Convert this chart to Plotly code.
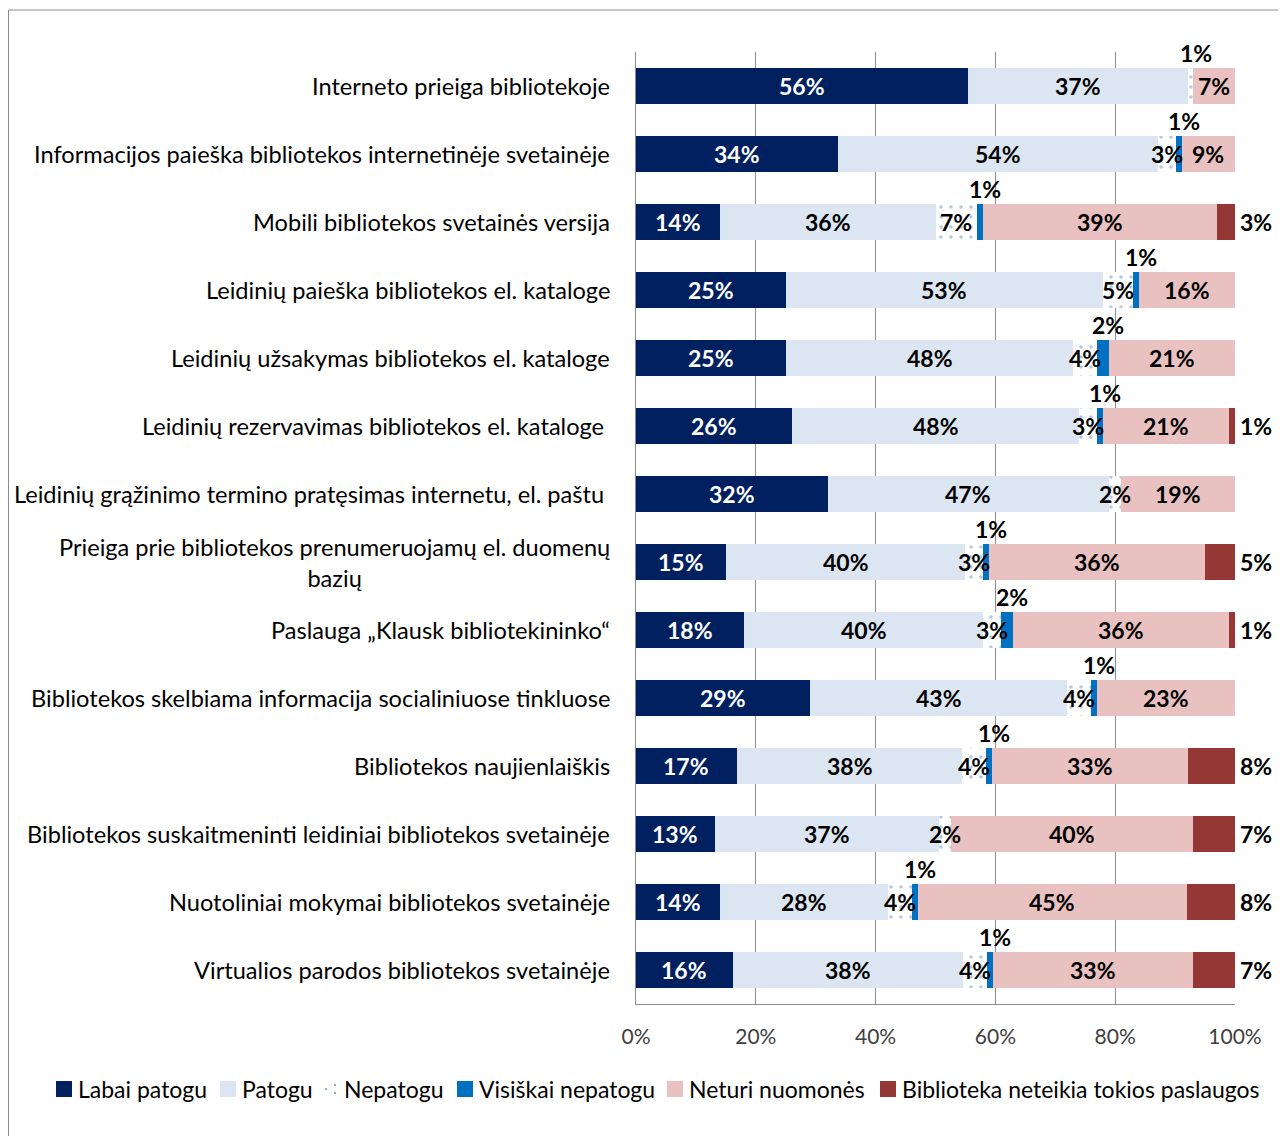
import plotly.graph_objects as go

# categories, top to bottom
kategorijos = [
    "Interneto prieiga bibliotekoje",
    "Informacijos paieška bibliotekos internetinėje svetainėje",
    "Mobili bibliotekos svetainės versija",
    "Leidinių paieška bibliotekos el. kataloge",
    "Leidinių užsakymas bibliotekos el. kataloge",
    "Leidinių rezervavimas bibliotekos el. kataloge ",
    "Leidinių grąžinimo termino pratęsimas internetu, el. paštu ",
    "Prieiga prie bibliotekos prenumeruojamų el. duomenų<br>bazių",
    "Paslauga „Klausk bibliotekininko“",
    "Bibliotekos skelbiama informacija socialiniuose tinkluose",
    "Bibliotekos naujienlaiškis",
    "Bibliotekos suskaitmeninti leidiniai bibliotekos svetainėje",
    "Nuotoliniai mokymai bibliotekos svetainėje",
    "Virtualios parodos bibliotekos svetainėje",
]

# percentages (as shown in the data labels)
labai_patogu = [56, 34, 14, 25, 25, 26, 32, 15, 18, 29, 17, 13, 14, 16]
patogu = [37, 54, 36, 53, 48, 48, 47, 40, 40, 43, 38, 37, 28, 38]
nepatogu = [1, 3, 7, 5, 4, 3, 2, 3, 3, 4, 4, 2, 4, 4]
visiskai_nepatogu = [0, 1, 1, 1, 2, 1, 0, 1, 2, 1, 1, 0, 1, 1]
neturi_nuomones = [7, 9, 39, 16, 21, 21, 19, 36, 36, 23, 33, 40, 45, 33]
neteikia = [0, 0, 3, 0, 0, 1, 0, 5, 1, 0, 8, 7, 8, 7]

x_ticks = [0, 20, 40, 60, 80, 100]
x_tick_labels = ["0%", "20%", "40%", "60%", "80%", "100%"]

serijos = [
    ("Labai patogu", labai_patogu, "#002060"),
    ("Patogu", patogu, "#DCE6F2"),
    ("Nepatogu", nepatogu, "white"),
    ("Visiškai nepatogu", visiskai_nepatogu, "#0070C0"),
    ("Neturi nuomonės", neturi_nuomones, "#E9C1C0"),
    ("Biblioteka neteikia tokios paslaugos", neteikia, "#953735"),
]
DOT = "#6F8FC0"

FONT = "Lato"
W, H = 1286, 1136
L, R, T, B = 628, 59, 44, 140


def px_x(p):
    return (p - L) / (W - L - R)


def px_y(p):
    return 1 - (p - T) / (H - T - B)


# scale each row to 100 %
sumos = [sum(s[1][i] for s in serijos) for i in range(len(kategorijos))]
ploc = [[v / sumos[i] * 100 for i, v in enumerate(s[1])] for s in serijos]

fig = go.Figure()
for (name, vals, color), w in zip(serijos, ploc):
    marker = dict(color=color, line=dict(width=0))
    if name == "Nepatogu":
        marker["pattern"] = dict(shape=".", fgcolor=DOT, bgcolor="white", size=10, solidity=0.1)
    fig.add_trace(go.Bar(
        y=kategorijos, x=w, name=name, orientation="h", marker=marker, width=0.53,
        hoverinfo="skip", showlegend=False,
    ))

# data labels
start = [0.0] * len(kategorijos)
annots = []
for k, ((name, vals, color), w) in enumerate(zip(serijos, ploc)):
    for i, cat in enumerate(kategorijos):
        v = vals[i]
        mid = start[i] + w[i] / 2
        txt = "<b>%d%%</b>" % v
        if k in (0, 1, 4) or (k == 2 and v >= 2):
            annots.append(dict(x=mid, y=cat, text=txt, showarrow=False,
                               font=dict(size=23, color="white" if k == 0 else "black")))
        elif (k == 3 and v > 0) or (k == 2 and 0 < v < 2):
            annots.append(dict(x=mid, y=cat, text=txt, showarrow=False, yshift=33, xshift=5,
                               font=dict(size=23, color="black")))
        elif k == 5 and v > 0:
            annots.append(dict(x=100, y=cat, text=txt, showarrow=False, xanchor="left", xshift=3,
                               font=dict(size=23, color="black")))
        start[i] += w[i]

# category labels
for cat in kategorijos:
    annots.append(dict(x=0, y=cat, xref="x", text=cat, showarrow=False, xanchor="right",
                       align="center", xshift=-24, font=dict(size=23.6, color="black")))

# legend (drawn by hand so it stays on one line like the original)
legend_x = [48, 212, 314, 449, 659, 872]
legend_y = 1081
shapes = [dict(type="rect", xref="paper", yref="paper", x0=px_x(0.5), y0=px_y(2),
               x1=px_x(1300), y1=px_y(1150), line=dict(color="#8C8C8C", width=1), layer="below")]
for (name, vals, color), lx in zip(serijos, legend_x):
    if name == "Nepatogu":
        for dx, dy in [(4, 0), (13, -4), (13, 4)]:
            shapes.append(dict(type="circle", xref="paper", yref="paper",
                               x0=px_x(lx + dx - 1), x1=px_x(lx + dx + 1),
                               y0=px_y(legend_y + dy - 1), y1=px_y(legend_y + dy + 1),
                               fillcolor=DOT, line=dict(width=0)))
    else:
        shapes.append(dict(type="rect", xref="paper", yref="paper",
                           x0=px_x(lx), x1=px_x(lx + 16),
                           y0=px_y(legend_y - 8), y1=px_y(legend_y + 8),
                           fillcolor=color, line=dict(width=0)))
    annots.append(dict(xref="paper", yref="paper", x=px_x(lx + 20), y=px_y(legend_y),
                       xanchor="left", yanchor="middle", text=name, showarrow=False,
                       font=dict(size=23, color="black")))

fig.update_layout(
    width=W, height=H,
    margin=dict(l=L, r=R, t=T, b=B),
    barmode="stack",
    plot_bgcolor="white", paper_bgcolor="white",
    font=dict(family=FONT, size=21, color="black"),
    annotations=annots,
    shapes=shapes,
    showlegend=False,
    xaxis=dict(range=[0, 100], tickmode="array", tickvals=x_ticks, ticktext=x_tick_labels,
               showgrid=True, gridcolor="#8C8C8C", gridwidth=1, zeroline=False,
               showline=True, linecolor="#8C8C8C", linewidth=1,
               ticks="outside", ticklen=14, tickcolor="rgba(0,0,0,0)",
               tickfont=dict(size=21, color="#404040")),
    yaxis=dict(range=[len(kategorijos) - 0.5, -0.5], showticklabels=False, showgrid=False,
               showline=True, linecolor="#8C8C8C", linewidth=1, zeroline=False),
)

fig.write_html("out.html")
